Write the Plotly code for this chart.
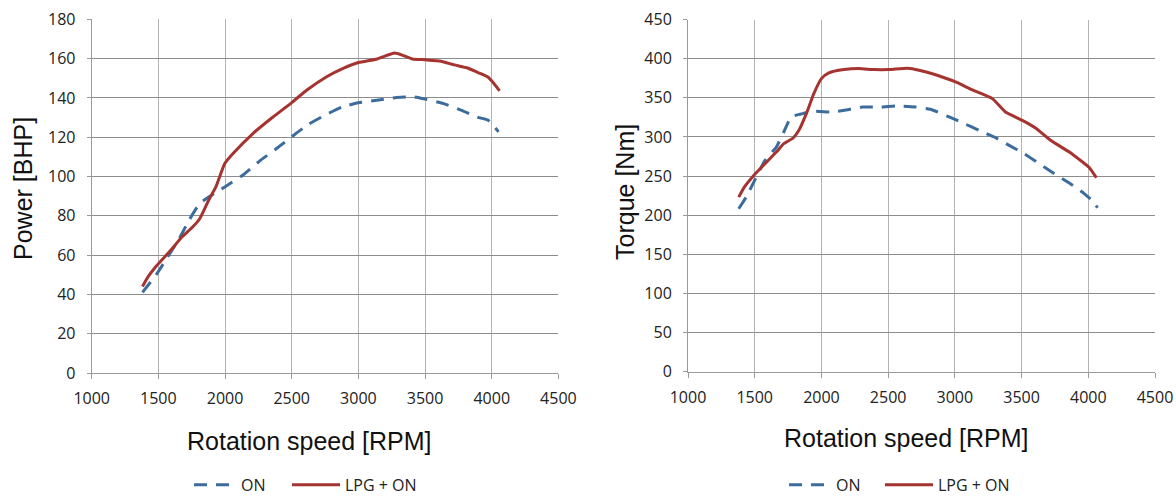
import plotly.graph_objects as go

# ---------------- data ----------------
rpm_power_on = [1381, 1488, 1569, 1649, 1730, 1810, 1918, 1998, 2132, 2267, 2401, 2500,
                2615, 2750, 2884, 3000, 3152, 3286, 3407, 3501, 3635, 3769, 3903, 3971, 4051]
power_on = [41.0, 50.5, 59.0, 67.5, 77.7, 86.2, 91.3, 94.7, 100.6, 108.3, 115.0, 120.2,
            126.1, 131.2, 135.5, 137.5, 138.9, 140.2, 140.6, 139.4, 137.2, 133.8, 130.0, 128.7, 122.7]

rpm_power_lpg = [1381, 1421, 1488, 1569, 1623, 1676, 1757, 1810, 1877, 1931, 1998, 2060,
                 2211, 2362, 2500, 2614, 2765, 2890, 3000, 3141, 3272, 3342, 3405, 3500,
                 3619, 3719, 3820, 3896, 3971, 4004, 4059]
power_lpg = [44.0, 48.8, 54.7, 60.7, 64.9, 69.2, 74.3, 78.5, 87.9, 94.7, 106.6, 111.7,
             122.0, 130.4, 137.6, 144.0, 150.9, 155.2, 158.0, 159.8, 162.8, 161.4, 159.8, 159.4,
             158.7, 156.8, 155.2, 152.9, 150.6, 148.3, 143.6]

rpm_torque_on = [1380, 1436, 1493, 1577, 1662, 1718, 1774, 1859, 1943, 2084, 2197, 2309,
                 2450, 2563, 2704, 2816, 2957, 3070, 3182, 3295, 3407, 3520, 3633, 3746,
                 3858, 3971, 4041, 4069]
torque_on = [208.2, 223.0, 242.3, 270.0, 287.0, 306.3, 325.5, 329.7, 332.7, 331.8, 334.8, 338.2,
             338.2, 339.5, 338.2, 335.3, 325.5, 317.0, 308.4, 299.9, 289.2, 278.5, 265.7, 252.9,
             241.0, 227.3, 216.7, 209.4]

rpm_torque_lpg = [1380, 1422, 1493, 1577, 1662, 1718, 1788, 1831, 1887, 1943, 2000, 2056,
                  2169, 2281, 2394, 2506, 2647, 2732, 2844, 3005, 3126, 3281, 3379, 3506,
                  3605, 3717, 3858, 3957, 4004, 4061]
torque_lpg = [223.0, 235.9, 250.8, 265.7, 280.7, 291.3, 298.6, 308.4, 329.7, 355.3, 374.5, 381.8,
              386.0, 387.3, 386.0, 386.0, 387.7, 385.2, 380.0, 370.2, 360.4, 348.9, 331.8, 321.2,
              311.4, 295.6, 280.7, 267.9, 261.5, 247.8]

series_names = ["ON", "LPG + ON"]
x_title = "Rotation speed [RPM]"
y_titles = ["Power [BHP]", "Torque [Nm]"]

# ---------------- style ----------------
BLUE = "#3C6C9C"
RED = "#A53330"
W, H = 1176, 496
TICK_FONT = dict(family="Open Sans, sans-serif", size=16, color="#222222")
TITLE_FONT = dict(family="Liberation Sans, Arial, sans-serif", size=25, color="#111111")
DASH = "13px,9px"

fig = go.Figure()

fig.add_trace(go.Scatter(x=rpm_power_on, y=power_on, name=series_names[0], mode="lines",
                         line=dict(color=BLUE, width=3, dash=DASH, shape="spline", smoothing=0.5),
                         xaxis="x", yaxis="y", legend="legend"))
fig.add_trace(go.Scatter(x=rpm_power_lpg, y=power_lpg, name=series_names[1], mode="lines",
                         line=dict(color=RED, width=3, shape="spline", smoothing=0.5),
                         xaxis="x", yaxis="y", legend="legend2"))
fig.add_trace(go.Scatter(x=rpm_torque_on, y=torque_on, name=series_names[0], mode="lines",
                         line=dict(color=BLUE, width=3, dash=DASH, shape="spline", smoothing=0.5),
                         xaxis="x2", yaxis="y2", legend="legend3"))
fig.add_trace(go.Scatter(x=rpm_torque_lpg, y=torque_lpg, name=series_names[1], mode="lines",
                         line=dict(color=RED, width=3, shape="spline", smoothing=0.5),
                         xaxis="x2", yaxis="y2", legend="legend4"))

def xax(domain, anchor):
    return dict(domain=domain, anchor=anchor, range=[1000, 4500], dtick=500, tick0=1000,
                showgrid=True, gridcolor="#b4b4b4", gridwidth=1,
                showline=True, linecolor="#9a9a9a", linewidth=1,
                ticks="outside", ticklen=5, tickcolor="#9a9a9a",
                ticklabelstandoff=6, zeroline=False, tickfont=TICK_FONT,
                automargin=False, fixedrange=True)

def yax(domain, anchor, rng, dt):
    return dict(domain=domain, anchor=anchor, range=rng, dtick=dt, tick0=0,
                showgrid=True, gridcolor="#8c8c8c", gridwidth=1,
                showline=True, linecolor="#9a9a9a", linewidth=1,
                ticks="outside", ticklen=4, tickcolor="#9a9a9a",
                ticklabelstandoff=8, zeroline=False, tickfont=TICK_FONT,
                automargin=False, fixedrange=True)

L_X = [91.7 / W, 558.4 / W]
R_X = [688.0 / W, 1155.0 / W]
L_Y = [(H - 373.0) / H, (H - 19.3) / H]
R_Y = [(H - 371.7) / H, (H - 19.5) / H]

legend_common = dict(orientation="h", font=dict(family="Open Sans, sans-serif", size=16, color="#222222"),
                     bgcolor="rgba(0,0,0,0)", yanchor="bottom", xanchor="left", y=-0.012,
                     tracegroupgap=0, itemclick=False, itemdoubleclick=False)

fig.update_layout(
    width=W, height=H,
    margin=dict(l=0, r=0, t=0, b=0, autoexpand=False),
    paper_bgcolor="white", plot_bgcolor="white",
    xaxis=xax(L_X, "y"),
    yaxis=yax(L_Y, "x", [0, 180], 20),
    xaxis2=xax(R_X, "y2"),
    yaxis2=yax(R_Y, "x2", [0, 450], 50),
    legend=dict(x=189 / W, itemwidth=42, **legend_common),
    legend2=dict(x=287 / W, itemwidth=48, **legend_common),
    legend3=dict(x=784 / W, itemwidth=42, **legend_common),
    legend4=dict(x=880 / W, itemwidth=48, **legend_common),
    showlegend=True,
)

annotations = [
    dict(text=x_title, x=309 / W, y=(H - 441) / H),
    dict(text=x_title, x=906 / W, y=(H - 438) / H),
    dict(text=y_titles[0], x=23 / W, y=(H - 189) / H, textangle=-90),
    dict(text=y_titles[1], x=625 / W, y=(H - 192) / H, textangle=-90),
]
for a in annotations:
    fig.add_annotation(xref="paper", yref="paper", xanchor="center", yanchor="middle",
                       showarrow=False, font=TITLE_FONT, **a)

fig.write_html("out.html", config={"displayModeBar": False},
               post_script="document.body.style.margin='0';document.body.style.overflow='hidden';")
